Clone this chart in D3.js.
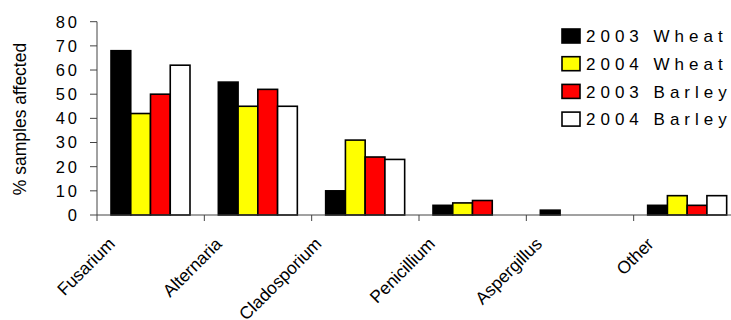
<!DOCTYPE html>
<html><head><meta charset="utf-8">
<script src="https://cdn.jsdelivr.net/npm/d3@7/dist/d3.min.js"></script>
<style>
html,body{margin:0;padding:0;background:#fff;}
svg{display:block;font-family:Arial,"Liberation Sans",sans-serif;}
</style></head>
<body><svg id="c" width="731" height="320"></svg>
<script>
const categories = ["Fusarium","Alternaria","Cladosporium","Penicillium","Aspergillus","Other"];
const seriesNames = ["2003 Wheat","2004 Wheat","2003 Barley","2004 Barley"];
const seriesColors = ["#000000","#ffff00","#ff0000","#ffffff"];
const wheat2003 = [68,55,10,4,2,4];
const wheat2004 = [42,45,31,5,0,8];
const barley2003 = [50,52,24,6,0,4];
const barley2004 = [62,45,23,0,0,8];
const seriesValues = [wheat2003, wheat2004, barley2003, barley2004];
const yTicks = [0,10,20,30,40,50,60,70,80];

const svg = d3.select("#c");
const x = d3.scaleBand().domain(categories).range([97, 741]).padding(0);
const xs = d3.scaleBand().domain(seriesNames).range([14, 93]).padding(0);
const y = d3.scaleLinear().domain([0, 80]).range([215, 21.7]);

// bars
seriesNames.forEach((s, si) => {
  svg.append("g").selectAll("rect")
    .data(categories.map((c, ci) => ({c, v: seriesValues[si][ci]})).filter(d => d.v > 0))
    .join("rect")
    .attr("x", d => x(d.c) + xs(s))
    .attr("y", d => y(d.v))
    .attr("width", xs.bandwidth())
    .attr("height", d => y(0) - y(d.v))
    .attr("fill", seriesColors[si])
    .attr("stroke", "#000")
    .attr("stroke-width", 1.6);
});

// y axis
const ya = svg.append("g");
ya.append("line").attr("x1", 97).attr("x2", 97).attr("y1", y(80)).attr("y2", y(0))
  .attr("stroke", "#444").attr("stroke-width", 1);
ya.selectAll("line.t").data(yTicks).join("line").attr("class","t")
  .attr("x1", 90).attr("x2", 97).attr("y1", d => y(d)).attr("y2", d => y(d))
  .attr("stroke", "#444");
ya.selectAll("text").data(yTicks).join("text")
  .attr("x", 80).attr("y", d => y(d)).attr("dy", "0.36em")
  .attr("text-anchor", "end").attr("font-size", 16.5).attr("letter-spacing", 3)
  .attr("fill", "#000").text(d => d);

// x axis
const xa = svg.append("g");
xa.append("line").attr("x1", 97).attr("x2", 741).attr("y1", y(0)).attr("y2", y(0))
  .attr("stroke", "#444");
const tickPos = categories.map(c => x(c)).concat([x.range()[1]]);
xa.selectAll("line.t").data(tickPos).join("line").attr("class","t")
  .attr("x1", d => d).attr("x2", d => d).attr("y1", y(0)).attr("y2", y(0) + 6)
  .attr("stroke", "#444");
xa.selectAll("text").data(categories).join("text")
  .attr("text-anchor", "end").attr("font-size", 17.5).attr("fill", "#000")
  .text(c => c)
  .each(function(c) {
    const w = this.getComputedTextLength();
    const off = 21 - 0.00244 * Math.pow(Math.max(0, w - 44), 2);
    d3.select(this).attr("transform", `translate(${x(c) + off},${245}) rotate(-45)`);
  });

// y title
svg.append("text")
  .attr("transform", `translate(26,${119}) rotate(-90)`)
  .attr("text-anchor", "middle").attr("font-size", 17.5).attr("fill", "#000")
  .text("% samples affected");

// legend
const lg = svg.append("g");
seriesNames.forEach((s, i) => {
  const cy = 36 + i * 27.7;
  lg.append("rect").attr("x", 562).attr("y", cy - 7).attr("width", 18).attr("height", 14)
    .attr("fill", seriesColors[i]).attr("stroke", "#000").attr("stroke-width", 1.6);
  lg.append("text").attr("x", 586).attr("y", cy).attr("dy", "0.36em")
    .attr("font-size", 17).attr("letter-spacing", 5).attr("fill", "#000").text(s);
});
</script></body></html>
